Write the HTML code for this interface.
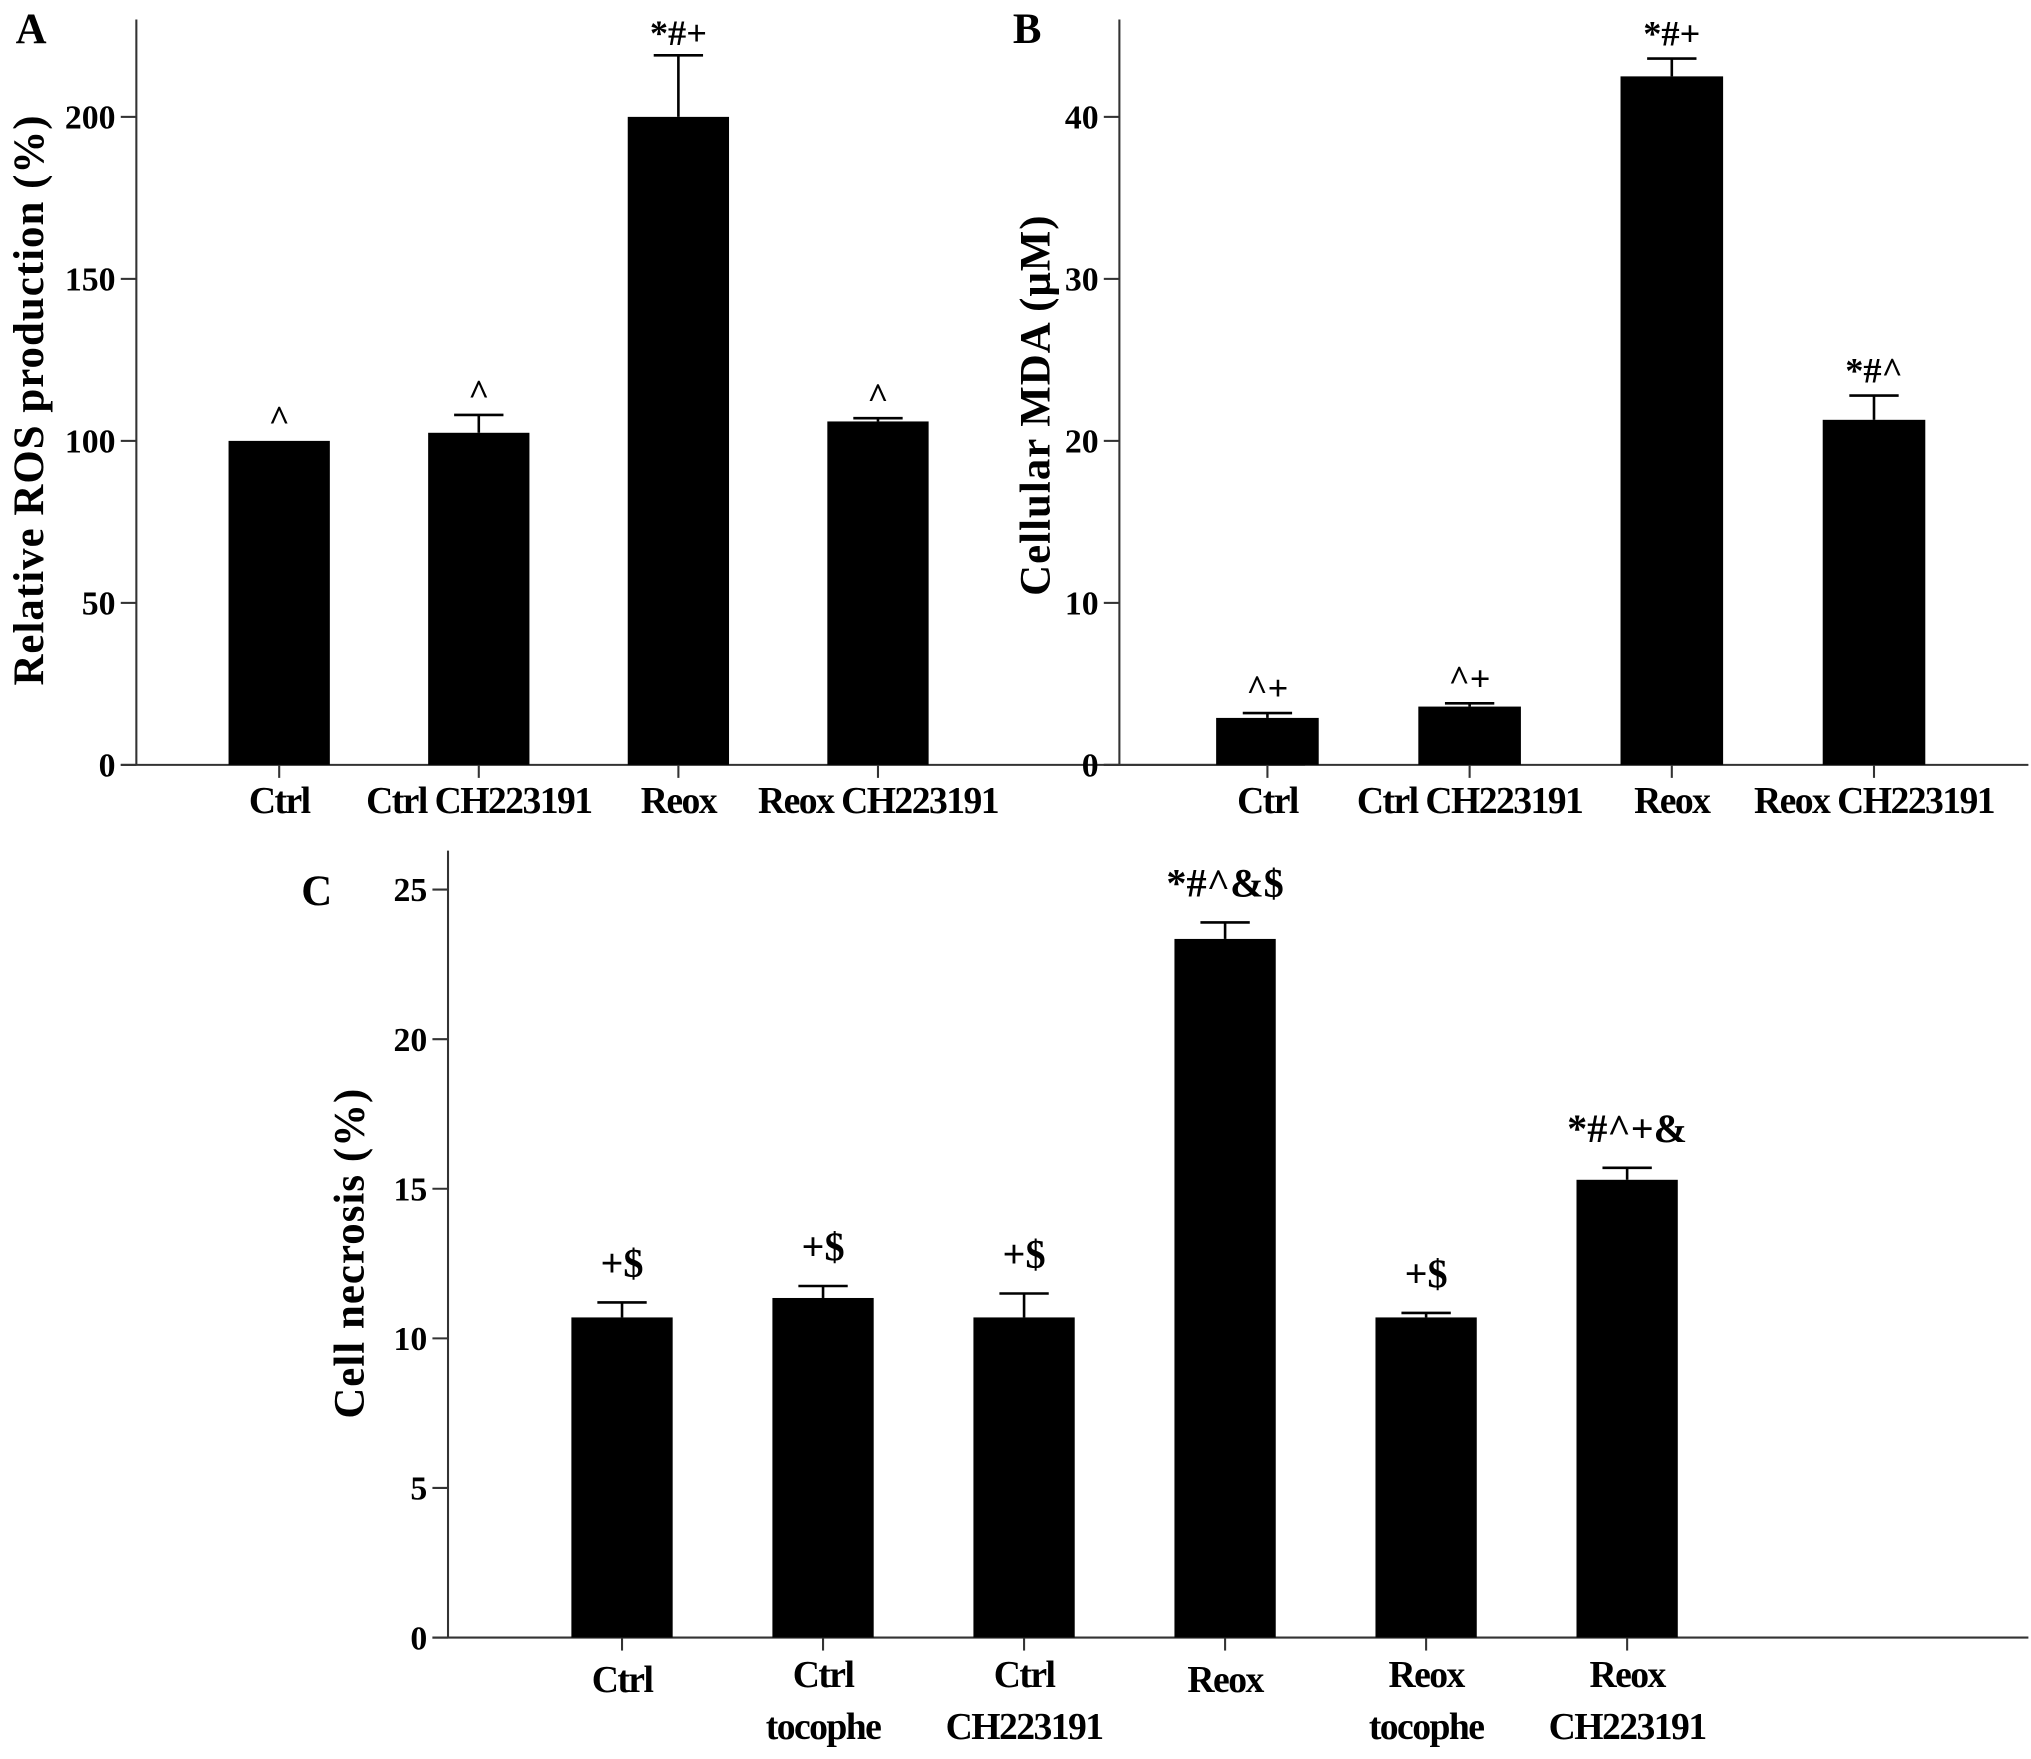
<!DOCTYPE html>
<html><head><meta charset="utf-8"><style>
html,body{margin:0;padding:0;background:#fff;}
svg{display:block;}
text{font-family:"Liberation Serif",serif;font-weight:bold;fill:#000;}
</style></head><body>
<svg id="fig" width="2031" height="1759" viewBox="0 0 1564 1354.5" preserveAspectRatio="none" xmlns="http://www.w3.org/2000/svg"></svg>
<script>
const catsA = ["Ctrl","Ctrl CH223191","Reox","Reox CH223191"];
const valsA = [100, 102.5, 200, 106];
const errA = [0, 5.5, 19, 1];
const annA = ["^","^","*#+","^"];
const ticksA = [0,50,100,150,200];

const catsB = ["Ctrl","Ctrl CH223191","Reox","Reox CH223191"];
const valsB = [2.9, 3.6, 42.5, 21.3];
const errB = [0.3, 0.2, 1.1, 1.5];
const annB = ["^+","^+","*#+","*#^"];
const ticksB = [0,10,20,30,40];

const catsC = [["Ctrl"],["Ctrl","tocophe"],["Ctrl","CH223191"],["Reox"],["Reox","tocophe"],["Reox","CH223191"]];
const valsC = [10.7, 11.35, 10.7, 23.35, 10.7, 15.3];
const errC = [0.5, 0.4, 0.8, 0.55, 0.15, 0.4];
const annC = ["+$","+$","+$","*#^&$","+$","*#^+&"];
const ticksC = [0,5,10,15,20,25];

const svg = document.getElementById('fig');
const NS = "http://www.w3.org/2000/svg";
function mk(tag, attrs, parent, txt){
  const e = document.createElementNS(NS, tag);
  for (const k in attrs) e.setAttribute(k, attrs[k]);
  if (txt !== undefined) e.textContent = txt;
  (parent || svg).appendChild(e);
  return e;
}

function panel(cfg){
  const g = mk('g', {});
  
  
  const y = v => cfg.y0 - v / cfg.maxTick * (cfg.y0 - cfg.yTop);
  const n = cfg.cats.length;
  const xc = i => cfg.firstC + i * cfg.step;
  const ya = mk('line', {x1:cfg.ax, x2:cfg.ax, y1:cfg.axTop, y2:cfg.y0, stroke:'#333', 'stroke-width':1.6}, g);
  
  
  const xa = mk('line', {x1:cfg.ax - 12, x2:cfg.axRight, y1:cfg.y0, y2:cfg.y0, stroke:'#333', 'stroke-width':1.6}, g);
  
  
  cfg.ticks.forEach(t => {
    const ty = y(t);
    mk('line', {x1:cfg.ax - 12, x2:cfg.ax, y1:ty, y2:ty, stroke:'#333', 'stroke-width':1.6}, g);
    const tl = mk('text', {x:cfg.ax - 16, y:ty + 9, 'text-anchor':'end', 'font-size':26}, g, String(t));
    
    
  });
  for (let i = 0; i < n; i++){
    const cx = xc(i);
    const top = y(cfg.vals[i]);
    const b = mk('rect', {x:cx - cfg.bw/2, y:top, width:cfg.bw, height:cfg.y0 - top, fill:'#000'}, g);
    
    
    if (cfg.err[i] > 0){
      const ey = y(cfg.vals[i] + cfg.err[i]);
      mk('line', {x1:cx, x2:cx, y1:top, y2:ey, stroke:'#000', 'stroke-width':2}, g);
      mk('line', {x1:cx - 19, x2:cx + 19, y1:ey, y2:ey, stroke:'#000', 'stroke-width':2}, g);
    }
    const annY = y(cfg.vals[i] + cfg.err[i]) - cfg.annGap;
    const an = mk('text', {x:cx, y:annY, 'text-anchor':'middle', 'font-size':cfg.annSize, 'font-weight':cfg.annWeight}, g, cfg.ann[i]);
    
    
    mk('line', {x1:cx, x2:cx, y1:cfg.y0, y2:cfg.y0 + 10, stroke:'#333', 'stroke-width':1.6}, g);
    const lines = Array.isArray(cfg.cats[i]) ? cfg.cats[i] : [cfg.cats[i]];
    lines.forEach((s, j) => {
      const off = lines.length === 1 && cfg.twoLine ? 4 : 0;
      const xl = mk('text', {x:cx, y:cfg.y0 + cfg.labOff + off + j * 40, 'text-anchor':'middle', 'font-size':29, 'letter-spacing':-1.2}, g, s);
      
      
    });
  }
  const tt = mk('text', {x:0, y:0, 'text-anchor':'middle', 'font-size':33, 'letter-spacing':0.8, transform:`translate(${cfg.titleX},${cfg.titleY}) rotate(-90)`}, g, cfg.title);
  
  
  const pl = mk('text', {x:cfg.letterX, y:cfg.letterY, 'font-size':33}, g, cfg.letter);
  
  
}

panel({name:'panel-a', cats:catsA, vals:valsA, err:errA, ann:annA, ticks:ticksA, maxTick:200,
  ax:105, axTop:15, axRight:1005, y0:589, yTop:90, firstC:215, step:153.7, bw:78,
  labOff:37, annSize:28, annWeight:'normal', annGap:8, title:'Relative ROS production (%)', titleX:33, titleY:308,
  letter:'A', letterX:12, letterY:33});
panel({name:'panel-b', cats:catsB, vals:valsB, err:errB, ann:annB, ticks:ticksB, maxTick:40,
  ax:862, axTop:15, axRight:1562, y0:589, yTop:90, firstC:976, step:155.7, bw:79,
  labOff:37, annSize:28, annWeight:'normal', annGap:10, title:'Cellular MDA (\u03bcM)', titleX:808, titleY:312,
  letter:'B', letterX:780, letterY:33});
panel({name:'panel-c', cats:catsC, vals:valsC, err:errC, ann:annC, ticks:ticksC, maxTick:25,
  ax:345, axTop:655, axRight:1562, y0:1261, yTop:685, firstC:479, step:154.8, bw:78,
  labOff:38, twoLine:true, annSize:31, annWeight:'bold', annGap:20, title:'Cell necrosis (%)', titleX:280, titleY:965,
  letter:'C', letterX:232, letterY:697});
</script>
</body></html>
